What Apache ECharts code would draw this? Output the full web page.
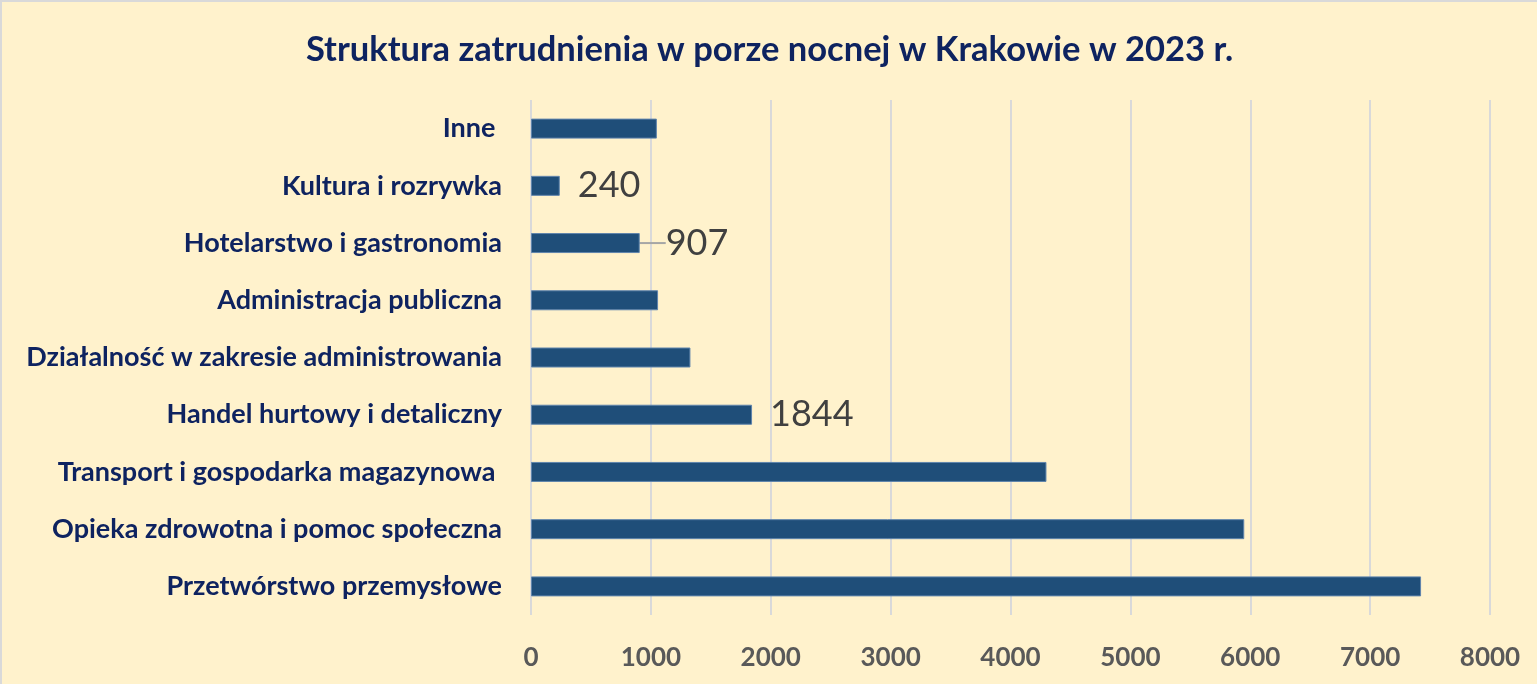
<!DOCTYPE html>
<html>
<head>
<meta charset="utf-8">
<script src="https://cdn.jsdelivr.net/npm/echarts@6/dist/echarts.min.js"></script>
<style>
html,body{margin:0;padding:0;background:#FFF2CC;}
#chart{width:1537px;height:684px;box-sizing:border-box;border-left:2px solid #D9D9D9;border-top:2px solid #D9D9D9;}
</style>
</head>
<body>
<div id="chart"></div>
<script>
const title = 'Struktura zatrudnienia w porze nocnej w Krakowie w 2023 r.';
const categories = ['Inne ', 'Kultura i rozrywka', 'Hotelarstwo i gastronomia', 'Administracja publiczna',
  'Działalność w zakresie administrowania', 'Handel hurtowy i detaliczny',
  'Transport i gospodarka magazynowa ', 'Opieka zdrowotna i pomoc społeczna', 'Przetwórstwo przemysłowe'];
const values = [1050, 240, 907, 1060, 1330, 1844, 4300, 5950, 7425];
const labelledValues = [240, 907, 1844];
const movedLabelValue = 907;
const xTicks = [0, 8000, 1000];

const chart = echarts.init(document.getElementById('chart'));
chart.setOption({
  backgroundColor: '#FFF2CC',
  title: {
    text: title, left: 'center', top: 25,
    textStyle: {fontFamily: 'Lato', fontWeight: 'bold', fontSize: 34.5, color: '#0E2360'}
  },
  grid: {left: 529, right: 47, top: 98, bottom: 69, containLabel: false},
  xAxis: {
    type: 'value', min: xTicks[0], max: xTicks[1], interval: xTicks[2],
    axisLine: {show: false}, axisTick: {show: false},
    splitLine: {show: true, lineStyle: {color: '#D9D9D9', width: 2}},
    axisLabel: {margin: 30, fontFamily: 'Lato', fontWeight: 'bold', fontSize: 26, color: '#595959',
      formatter: v => String(v)}
  },
  yAxis: {
    type: 'category', data: categories, inverse: true,
    axisLine: {show: false}, axisTick: {show: false},
    axisLabel: {margin: 29, fontFamily: 'Lato', fontWeight: 'bold', fontSize: 27, color: '#0E2360'}
  },
  series: [{
    type: 'bar', barWidth: 20,
    data: values.map(v => ({
      value: v,
      label: {show: labelledValues.includes(v)},
      labelLine: {show: v === movedLabelValue, length2: 0, lineStyle: {color: '#A6A6A6', width: 2}}
    })),
    itemStyle: {color: '#1F4E79', borderColor: '#5F84AC', borderWidth: 1},
    label: {
      position: 'right', distance: 18, offset: [0, 3],
      fontFamily: 'Lato', fontSize: 36, color: '#404040'
    },
    labelLayout: function (p) {
      if (values[p.dataIndex] === movedLabelValue) return {dx: 8};
      return {};
    },
    labelLine: {show: false}
  }]
});
</script>
</body>
</html>
